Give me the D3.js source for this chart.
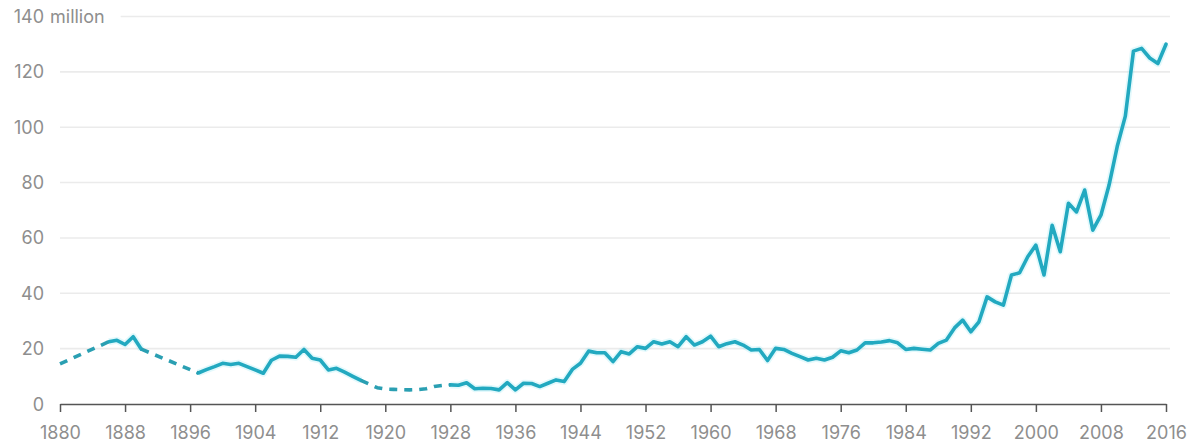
<!DOCTYPE html>
<html>
<head>
<meta charset="utf-8">
<script src="https://cdn.jsdelivr.net/npm/d3@7"></script>
<style>
  html, body { margin: 0; padding: 0; background: #fff; }
  svg { display: block; }
  text { font-family: Inter, "Noto Sans", sans-serif; }
</style>
</head>
<body>
<svg id="chart" width="1194" height="447"></svg>
<script>
// Annual values, millions (null = no observation for that year)
const years = d3.range(1880, 2017);
const values = [
  14.5, null, null, null, null, null, 22.5, 23.0, 21.5, 24.3,           // 1880-1889
  19.8, null, null, null, null, null, null, 11.2, 12.4, 13.5,           // 1890-1899
  14.7, 14.3, 14.7, 13.5, 12.3, 11.1, 15.8, 17.3, 17.2, 16.9,           // 1900-1909
  19.7, 16.5, 15.9, 12.3, 12.9, 11.5, 10.0, 8.5, 7.2, 5.9,              // 1910-1919
  5.4, 5.3, 5.2, 5.1, 5.2, 5.5, 6.3, 6.7, 6.9, 6.8,                     // 1920-1929
  7.7, 5.5, 5.7, 5.6, 5.1, 7.7, 5.1, 7.5, 7.4, 6.3,                     // 1930-1939
  7.5, 8.7, 8.1, 12.5, 14.7, 19.1, 18.5, 18.5, 15.3, 18.9,              // 1940-1949
  18.1, 20.7, 20.1, 22.5, 21.7, 22.5, 20.7, 24.3, 21.3, 22.5,           // 1950-1959
  24.5, 20.7, 21.8, 22.5, 21.3, 19.5, 19.7, 15.7, 20.1, 19.7,           // 1960-1969
  18.3, 17.1, 15.9, 16.5, 15.9, 16.9, 19.2, 18.5, 19.5, 22.1,           // 1970-1979
  22.1, 22.4, 22.9, 22.1, 19.7, 20.1, 19.8, 19.5, 21.9, 23.1,           // 1980-1989
  27.5, 30.3, 26.1, 29.7, 38.7, 36.9, 35.7, 46.6, 47.4, 53.2,           // 1990-1999
  57.4, 46.6, 64.6, 55.0, 72.5, 69.4, 77.3, 62.8, 68.2, 79.1,           // 2000-2009
  93.0, 104.0, 127.5, 128.5, 125.0, 123.0, 130.0                        // 2010-2016
];
// Stretches drawn dashed (gaps / estimated years), inclusive bounds
const dashedSpans = [[1880, 1886], [1890, 1897], [1917, 1928]];

const yTicks = [0, 20, 40, 60, 80, 100, 120, 140];
const xTicks = d3.range(1880, 2017, 8);
const yUnit = "million";

const svg = d3.select("#chart");
const x = d3.scaleLinear().domain([1880, 2016]).range([60, 1166]);
const y = d3.scaleLinear().domain([0, 140]).range([404, 16.5]);

const labelColor = "#8e8e8e";
const fontSize = 18;

const points = years.map((yr, i) => ({ year: yr, value: values[i] }))
  .filter(d => d.value !== null);

// Gridlines and y labels
const gridG = svg.append("g");
const labelG = svg.append("g");
yTicks.forEach(t => {
  const ty = y(t);
  labelG.append("text")
    .attr("x", 44).attr("y", ty)
    .attr("text-anchor", "end")
    .attr("dominant-baseline", "central")
    .attr("fill", labelColor)
    .attr("font-size", fontSize)
    .text(t);
  if (t === 0) return;
  let right = 44;
  if (t === yTicks[yTicks.length - 1]) {
    const unit = labelG.append("text")
      .attr("x", 50).attr("y", ty)
      .attr("dominant-baseline", "central")
      .attr("fill", labelColor)
      .attr("font-size", fontSize)
      .text(yUnit);
    right = 50 + unit.node().getComputedTextLength();
  }
  gridG.append("line")
    .attr("x1", Math.max(58, right + 16)).attr("x2", 1170)
    .attr("y1", ty).attr("y2", ty)
    .attr("stroke", "#ebebeb")
    .attr("stroke-width", 1.6);
});

// Bottom axis
const xAxis = d3.axisBottom(x)
  .tickValues(xTicks)
  .tickFormat(d3.format("d"))
  .tickSize(8)
  .tickSizeOuter(0)
  .tickPadding(14);
const axG = svg.append("g")
  .attr("transform", `translate(0,${y(0)})`)
  .call(xAxis);
axG.select(".domain").attr("stroke", "#555").attr("stroke-width", 1.5);
axG.selectAll(".tick line").attr("stroke", "#555").attr("stroke-width", 1.5);
axG.selectAll(".tick text")
  .attr("fill", labelColor)
  .attr("font-size", fontSize)
  .style("font-family", "Inter, 'Noto Sans', sans-serif");

// Line generator
const line = d3.line()
  .x(d => x(d.year))
  .y(d => y(d.value));

// Solid runs: split the observed series wherever a dashed span sits in between
const solidRuns = [];
let run = [];
points.forEach((d, i) => {
  if (i > 0) {
    const prev = points[i - 1];
    const bridged = dashedSpans.some(([a, b]) => prev.year >= a && d.year <= b);
    if (bridged) {
      if (run.length > 1) solidRuns.push(run);
      run = [];
    }
  }
  run.push(d);
});
if (run.length > 1) solidRuns.push(run);

const dashedRuns = dashedSpans.map(([a, b]) =>
  points.filter(d => d.year >= a && d.year <= b));

const lineG = svg.append("g").attr("fill", "none")
  .attr("stroke-linejoin", "round");

// soft halo under the solid line
solidRuns.forEach(r => {
  lineG.append("path").datum(r).attr("d", line)
    .attr("stroke", "#7fe3f3").attr("stroke-opacity", 0.22)
    .attr("stroke-width", 7);
});

solidRuns.forEach(r => {
  lineG.append("path").datum(r).attr("d", line)
    .attr("stroke", "#22a9c0")
    .attr("stroke-width", 3.6)
    .attr("stroke-linecap", "round");
});
dashedRuns.forEach(r => {
  lineG.append("path").datum(r).attr("d", line)
    .attr("stroke", "#2a9fb2")
    .attr("stroke-width", 3.6)
    .attr("stroke-dasharray", "8,7");
});
</script>
</body>
</html>
